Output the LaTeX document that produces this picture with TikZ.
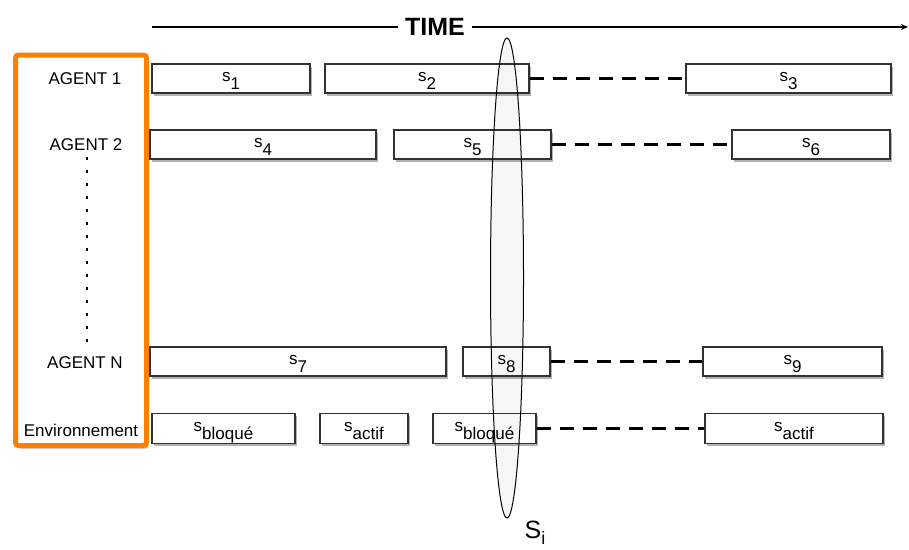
\documentclass[tikz,border=0pt]{standalone}
\usepackage{fontspec}
\setmainfont{Liberation Sans}
\usetikzlibrary{shapes.geometric,shadows,arrows.meta}
\definecolor{frameorange}{RGB}{255,128,0}
\definecolor{boxline}{RGB}{50,50,50}
\newcommand\slab[1]{s\raisebox{-8pt}{#1}}
\tikzset{
  lbl/.style={font=\fontsize{17}{17}\selectfont, inner sep=0pt},
  bx/.style={draw=boxline, line width=1.3pt, fill=white, inner sep=0pt,
    minimum height=29pt, text height=6pt, text depth=0pt,
    font=\fontsize{17}{17}\selectfont,
    drop shadow={shadow xshift=1.5pt, shadow yshift=-2.5pt, opacity=0.3, fill=black}},
  wait/.style={line width=2.2pt, dash pattern=on 14pt off 9pt},
}
\begin{document}
\begin{tikzpicture}[x=1pt,y=-1pt]
\useasboundingbox (0,0) rectangle (909,549);
% orange frame
\node[draw=frameorange, line width=5pt, rounded corners=3pt, fill=white,
  minimum width=131pt, minimum height=390.5pt, inner sep=0pt,
  drop shadow={shadow xshift=2pt, shadow yshift=-3pt, opacity=0.25, fill=black}]
  (frame) at (81,250.25) {};
\node[lbl] (a1) at (85,79) {AGENT 1};
\node[lbl] (a2) at (86,145) {AGENT 2};
\node[lbl] (an) at (85,363) {AGENT N};
\node[lbl] (env) at (81,430) {Environnement};
\coordinate (dtop) at (87,157);
\coordinate (dbot) at (87,346);
\draw[line width=2pt, dash pattern=on 3pt off 10pt] (dtop) -- (dbot);
% time axis
\node[font=\bfseries\fontsize{25}{25}\selectfont, inner sep=0pt, inner xsep=7pt] (time) at (435,27) {TIME};
\coordinate (tl) at (152,27);
\coordinate (tr) at (908,27);
\draw[line width=1.3pt] (tl) -- (time.west);
\draw[line width=1.3pt, -{Stealth[length=7pt,width=6pt]}] (time.east) -- (tr);
% row 1
\node[bx, minimum width=158pt] (s1) at (231,78.5) {\slab{1}};
\node[bx, minimum width=204pt] (s2) at (427,78.5) {\slab{2}};
\node[bx, minimum width=205pt] (s3) at (788.5,78.5) {\slab{3}};
% row 2
\node[bx, minimum width=226pt] (s4) at (263,144.5) {\slab{4}};
\node[bx, minimum width=157pt] (s5) at (472.5,144.5) {\slab{5}};
\node[bx, minimum width=158pt] (s6) at (811,144.5) {\slab{6}};
% row N
\node[bx, minimum width=296pt] (s7) at (298,361.5) {\slab{7}};
\node[bx, minimum width=87pt] (s8) at (506.5,361.5) {\slab{8}};
\node[bx, minimum width=179pt] (s9) at (792.5,361.5) {\slab{9}};
% environment
\node[bx, minimum width=143pt, minimum height=30pt] (e1) at (223.5,428.5) {\slab{bloqué}};
\node[bx, minimum width=88pt, minimum height=30pt] (e2) at (364,428.5) {\slab{actif}};
\node[bx, minimum width=103pt, minimum height=30pt] (e3) at (484.5,428.5) {\slab{bloqué}};
\node[bx, minimum width=178pt, minimum height=30pt] (e4) at (794,428.5) {\slab{actif}};
% waiting connectors
\draw[wait] (s2.east) -- (s3.west);
\draw[wait] (s5.east) -- (s6.west);
\draw[wait] (s8.east) -- (s9.west);
\draw[wait] (e3.east) -- (e4.west);
% state ellipse
\node[draw=black, line width=1pt, ellipse, fill=black, fill opacity=0.035,
  minimum width=33pt, minimum height=480pt, inner sep=0pt] (ell) at (507,278) {};
\node[inner sep=0pt, font=\fontsize{25}{25}\selectfont] (si) at (535,533) {S\raisebox{-6pt}{\fontsize{18}{18}\selectfont i}};
\end{tikzpicture}
\end{document}
